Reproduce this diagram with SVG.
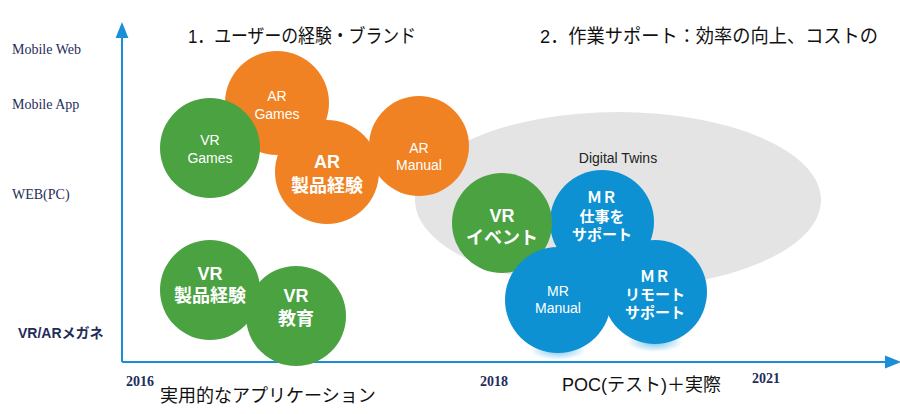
<svg xmlns="http://www.w3.org/2000/svg" width="900" height="414" viewBox="0 0 900 414">
<style>
.t{font-family:"Liberation Sans","Noto Sans CJK JP",sans-serif}
.ax{font-family:"Liberation Serif",serif;font-size:14px;fill:#1f2d5a}
.w{fill:#fff;text-anchor:middle;font-family:"Liberation Sans","Noto Sans CJK JP",sans-serif}
.bd{font-weight:bold}
.o{fill:#f08223}.g{fill:#4aa241}.b{fill:#0e91d2}
.h{font-size:19px;fill:#111;font-family:"Liberation Sans","Noto Sans CJK JP",sans-serif}
</style>
<defs>
<marker id="ar" viewBox="0 0 10 10" refX="5" refY="5" markerWidth="8" markerHeight="8" orient="auto"><path d="M0,1 L10,5 L0,9 Z" fill="#1a8fd8"/></marker>
<radialGradient id="glow"><stop offset="0" stop-color="#4fb3ea" stop-opacity="0.8"/><stop offset="1" stop-color="#4fb3ea" stop-opacity="0"/></radialGradient>
</defs>
<rect width="900" height="414" fill="#fff"/>
<g id="connectors">
<line x1="122" y1="362" x2="122" y2="30" stroke="#1a8fd8" stroke-width="2" marker-end="url(#ar)"/>
<line x1="122" y1="362" x2="893" y2="362" stroke="#1a8fd8" stroke-width="2" marker-end="url(#ar)"/>
</g>
<g id="labels">
<text class="ax" x="12" y="54">Mobile Web</text>
<text class="ax" x="12" y="109">Mobile App</text>
<text class="ax" x="12" y="199">WEB(PC)</text>
<text class="t bd" x="18" y="338" font-size="14" fill="#1f2d5a">VR/ARメガネ</text>
<text class="ax bd" x="126" y="386" font-size="13">2016</text>
<text class="ax bd" x="480" y="386" font-size="13">2018</text>
<text class="ax bd" x="752" y="383" font-size="13">2021</text>
<text class="t" x="160" y="402" font-size="18" fill="#111">実用的なアプリケーション</text>
<text class="t" x="562" y="391" font-size="18" fill="#111">POC(テスト)＋実際</text>
<text class="h" x="188" y="43" textLength="228" lengthAdjust="spacingAndGlyphs">1．ユーザーの経験・ブランド</text>
<text class="h" x="540" y="43" textLength="338" lengthAdjust="spacingAndGlyphs">2．作業サポート：効率の向上、コストの</text>
</g>
<g id="digital-twins"><ellipse cx="618" cy="200" rx="203" ry="88" fill="#e4e4e4"/><text class="t" x="618" y="163" font-size="14" text-anchor="middle" fill="#222">Digital Twins</text></g>
<g id="ar-games"><circle class="o" cx="277" cy="103" r="52"/><text class="w" x="277" y="101" font-size="14">AR</text><text class="w" x="277" y="119" font-size="14">Games</text></g>
<g id="vr-games"><circle class="g" cx="210" cy="148" r="50"/><text class="w" x="210" y="145" font-size="14">VR</text><text class="w" x="210" y="163" font-size="14">Games</text></g>
<g id="ar-product"><circle class="o" cx="327" cy="172" r="52"/><text class="w bd" x="327" y="168" font-size="18">AR</text><text class="w bd" x="327" y="192" font-size="18">製品経験</text></g>
<g id="ar-manual"><circle class="o" cx="419" cy="146" r="50"/><text class="w" x="419" y="153" font-size="14">AR</text><text class="w" x="419" y="170" font-size="14">Manual</text></g>
<ellipse cx="558" cy="350" rx="28" ry="10" fill="url(#glow)"/>
<ellipse cx="655" cy="342" rx="28" ry="10" fill="url(#glow)"/>
<g id="mr-work"><circle class="b" cx="602" cy="222" r="52"/><circle class="b" cx="606" cy="268" r="22"/><text class="w bd" x="602" y="203" font-size="15">ＭＲ</text><text class="w bd" x="602" y="222" font-size="15">仕事を</text><text class="w bd" x="602" y="240" font-size="15">サポート</text></g>
<g id="vr-event"><circle class="g" cx="502" cy="223" r="50"/><text class="w bd" x="502" y="222" font-size="18">VR</text><text class="w bd" x="502" y="244" font-size="18">イベント</text></g>
<g id="mr-remote"><circle class="b" cx="655" cy="292" r="52"/><text class="w bd" x="655" y="282" font-size="15">ＭＲ</text><text class="w bd" x="655" y="300" font-size="15">リモート</text><text class="w bd" x="655" y="318" font-size="15">サポート</text></g>
<g id="mr-manual"><circle class="b" cx="558" cy="300" r="53"/><text class="w" x="558" y="296" font-size="14">MR</text><text class="w" x="558" y="313" font-size="14">Manual</text></g>
<g id="vr-product"><circle class="g" cx="210" cy="290" r="50"/><text class="w bd" x="210" y="280" font-size="18">VR</text><text class="w bd" x="210" y="302" font-size="18">製品経験</text></g>
<g id="vr-edu"><circle class="g" cx="296" cy="316" r="50"/><text class="w bd" x="296" y="302" font-size="18">VR</text><text class="w bd" x="296" y="325" font-size="18">教育</text></g>
</svg>
